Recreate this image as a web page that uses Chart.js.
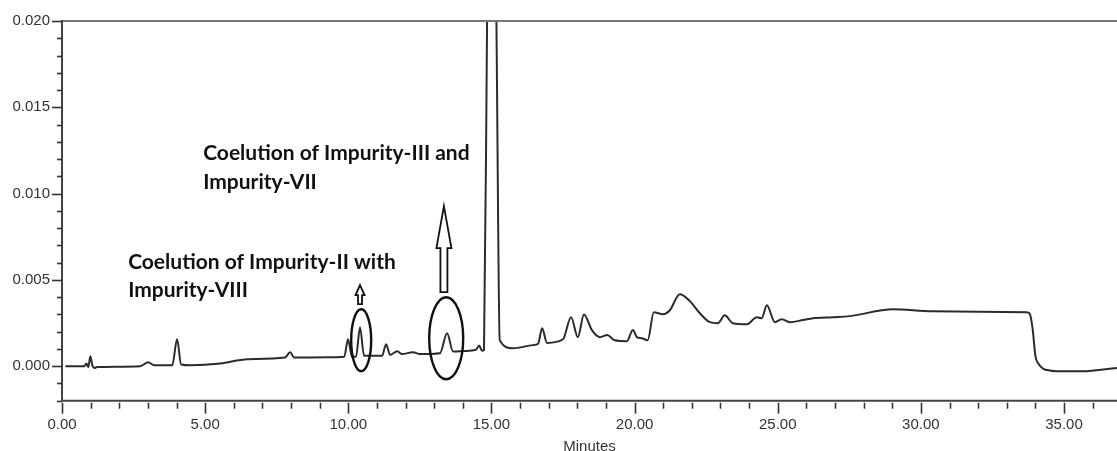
<!DOCTYPE html>
<html>
<head>
<meta charset="utf-8">
<script src="https://cdn.jsdelivr.net/npm/chart.js@4.4.0/dist/chart.umd.min.js"></script>
<style>
  html, body { margin: 0; padding: 0; background: #fff; overflow: hidden; }
  #wrap { width: 1117px; height: 451px; position: relative; }
</style>
</head>
<body>
<div id="wrap"><canvas id="chromChart"></canvas></div>
<script>
// ===========================================
// HPLC chromatogram
// ===========================================

// retention time (minutes)
const times = [
  0.12, 0.78, 0.85, 0.92, 0.99, 1.06, 1.13, 1.23, 2.73, 3.01,
  3.22, 3.85, 4.02, 4.16, 4.48, 5.53, 6.47, 7.79, 7.97, 8.11,
  9.26, 9.86, 9.99, 10.13, 10.27, 10.41, 10.55, 11.18, 11.32, 11.46,
  11.71, 11.88, 12.26, 12.50, 13.20, 13.45, 13.66, 14.08, 14.46, 14.57,
  14.67, 14.74, 14.85, 15.00, 15.17, 15.29, 15.75, 16.45, 16.63, 16.77,
  16.94, 17.50, 17.78, 18.02, 18.23, 18.51, 18.79, 19.04, 19.31, 19.73,
  19.94, 20.08, 20.25, 20.46, 20.67, 20.99, 21.23, 21.58, 21.93, 22.28,
  22.63, 22.91, 23.15, 23.43, 23.92, 24.27, 24.44, 24.62, 24.90, 25.14,
  25.42, 25.88, 26.23, 26.92, 27.52, 29.01, 30.41, 33.69, 33.80, 33.90,
  34.00, 34.10, 34.50, 35.00, 35.70, 36.30, 36.85
];

// detector response (AU)
const absorbance = [
  0.00000, 0.00000, 0.00015, -0.00005, 0.00058, 0.00005, -0.00010, -0.00005, 0.00000, 0.00023,
  0.00005, 0.00005, 0.00156, 0.00010, 0.00005, 0.00015, 0.00040, 0.00050, 0.00081, 0.00050,
  0.00052, 0.00055, 0.00156, 0.00055, 0.00055, 0.00226, 0.00060, 0.00060, 0.00127, 0.00065,
  0.00087, 0.00070, 0.00081, 0.00070, 0.00075, 0.00191, 0.00085, 0.00088, 0.00095, 0.00120,
  0.00090, 0.00095, 0.02050, 0.04000, 0.02050, 0.00150, 0.00104, 0.00122, 0.00130, 0.00220,
  0.00135, 0.00156, 0.00284, 0.00168, 0.00300, 0.00209, 0.00168, 0.00180, 0.00150, 0.00145,
  0.00209, 0.00168, 0.00162, 0.00150, 0.00313, 0.00301, 0.00324, 0.00417, 0.00377, 0.00307,
  0.00255, 0.00249, 0.00295, 0.00249, 0.00243, 0.00284, 0.00278, 0.00353, 0.00255, 0.00272,
  0.00255, 0.00267, 0.00278, 0.00284, 0.00290, 0.00330, 0.00319, 0.00313, 0.00305, 0.00220,
  0.00060, 0.00015, -0.00025, -0.00030, -0.00030, -0.00020, -0.00010
];

// axis ticks
const xMajorTicks = [0, 5, 10, 15, 20, 25, 30, 35];
const yMajorTicks = [0, 0.005, 0.010, 0.015, 0.020];

// annotation texts
const noteUpper = ['Coelution of Impurity-III and', 'Impurity-VII'];
const noteLower = ['Coelution of Impurity-II with', 'Impurity-VIII'];

const AXIS_FONT = "'Liberation Sans', Arial, sans-serif";
const NOTE_FONT = "bold 21px Lato, 'Open Sans', sans-serif";

// hollow up arrow, tip at (x, tipY)
function hollowArrow(ctx, x, tipY, headLen, headHalf, shaftHalf, bottomY) {
  ctx.beginPath();
  ctx.moveTo(x, tipY);
  ctx.lineTo(x + headHalf, tipY + headLen);
  ctx.lineTo(x + shaftHalf, tipY + headLen);
  ctx.lineTo(x + shaftHalf, bottomY);
  ctx.lineTo(x - shaftHalf, bottomY);
  ctx.lineTo(x - shaftHalf, tipY + headLen);
  ctx.lineTo(x - headHalf, tipY + headLen);
  ctx.closePath();
  ctx.fillStyle = '#fff';
  ctx.fill();
  ctx.stroke();
}

const chromFrame = {
  id: 'chromFrame',
  afterDraw(chart) {
    const ctx = chart.ctx;
    const xs = chart.scales.x;
    const ys = chart.scales.y;
    const a = chart.chartArea;
    ctx.save();

    // frame: top border, left + bottom axes
    ctx.strokeStyle = '#777';
    ctx.lineWidth = 2;
    ctx.beginPath();
    ctx.moveTo(a.left, a.top);
    ctx.lineTo(chart.width, a.top);
    ctx.stroke();
    ctx.strokeStyle = '#444';
    ctx.beginPath();
    ctx.moveTo(a.left, a.top - 1);
    ctx.lineTo(a.left, a.bottom);
    ctx.lineTo(chart.width, a.bottom);
    ctx.stroke();

    // x ticks every minute, longer every 5
    ctx.lineWidth = 1.6;
    ctx.strokeStyle = '#333';
    for (let i = 0; i <= Math.floor(xs.max); i++) {
      const px = Math.round(xs.getPixelForValue(i)) + 0.5;
      const len = i % 5 === 0 ? 11 : 6;
      ctx.beginPath();
      ctx.moveTo(px, a.bottom + 2);
      ctx.lineTo(px, a.bottom + 2 + len);
      ctx.stroke();
    }
    // y ticks every 0.001, longer every 0.005
    for (let k = -2; k <= 20; k++) {
      const py = Math.round(ys.getPixelForValue(k / 1000)) + 0.5;
      const len = k % 5 === 0 ? 10 : 5;
      ctx.beginPath();
      ctx.moveTo(a.left - len, py);
      ctx.lineTo(a.left, py);
      ctx.stroke();
    }

    // axis title
    ctx.fillStyle = '#333';
    ctx.font = '15px ' + AXIS_FONT;
    ctx.textAlign = 'center';
    ctx.textBaseline = 'middle';
    ctx.fillText('Minutes', (a.left + chart.width) / 2, 447);

    // notes
    ctx.fillStyle = '#111';
    ctx.font = NOTE_FONT;
    ctx.textAlign = 'left';
    const upX = xs.getPixelForValue(4.93), upY = ys.getPixelForValue(0.01234);
    noteUpper.forEach((t, i) => ctx.fillText(t, upX, upY + i * 29));
    const loX = xs.getPixelForValue(2.31), loY = ys.getPixelForValue(0.00603);
    noteLower.forEach((t, i) => ctx.fillText(t, loX, loY + i * 28));

    // circled peaks
    ctx.strokeStyle = '#111';
    ctx.lineWidth = 2.4;
    ctx.beginPath();
    ctx.ellipse(xs.getPixelForValue(10.45), ys.getPixelForValue(0.00150), 10, 31, 0, 0, Math.PI * 2);
    ctx.stroke();
    ctx.beginPath();
    ctx.ellipse(xs.getPixelForValue(13.42), ys.getPixelForValue(0.00162), 17, 41, 0, 0, Math.PI * 2);
    ctx.stroke();

    // arrows
    ctx.lineWidth = 1.8;
    const smX = xs.getPixelForValue(10.41);
    hollowArrow(ctx, smX, ys.getPixelForValue(0.00470), 10, 4.5, 2, ys.getPixelForValue(0.00360));
    const bgX = xs.getPixelForValue(13.34);
    hollowArrow(ctx, bgX, ys.getPixelForValue(0.00927), 42, 7.5, 3.5, ys.getPixelForValue(0.00429));

    ctx.restore();
  }
};

new Chart(document.getElementById('chromChart'), {
  type: 'line',
  data: {
    datasets: [{
      data: times.map((t, i) => ({ x: t, y: absorbance[i] })),
      borderColor: '#2b2b2b',
      borderWidth: 2,
      pointRadius: 0,
      fill: false,
      cubicInterpolationMode: 'monotone'
    }]
  },
  options: {
    responsive: true,
    maintainAspectRatio: false,
    animation: false,
    devicePixelRatio: 1,
    layout: { padding: { top: 21, right: 0, left: 0, bottom: 0 } },
    plugins: { legend: { display: false }, tooltip: { enabled: false } },
    scales: {
      x: {
        type: 'linear',
        min: 0,
        max: 36.85,
        afterBuildTicks: (s) => { s.ticks = xMajorTicks.map(v => ({ value: v })); },
        afterFit: (s) => { s.height = 50.3; },
        grid: { display: false, drawTicks: false },
        border: { display: false },
        ticks: {
          autoSkip: false,
          maxRotation: 0,
          padding: 15,
          color: '#333',
          font: { family: AXIS_FONT, size: 15 },
          callback: (v) => Number(v).toFixed(2)
        }
      },
      y: {
        min: -0.002,
        max: 0.020,
        afterBuildTicks: (s) => { s.ticks = yMajorTicks.map(v => ({ value: v })); },
        afterFit: (s) => { s.width = 62; },
        grid: { display: false, drawTicks: false },
        border: { display: false },
        ticks: {
          padding: 12,
          color: '#333',
          font: { family: AXIS_FONT, size: 15 },
          callback: (v) => Number(v).toFixed(3)
        }
      }
    }
  },
  plugins: [chromFrame]
});
</script>
</body>
</html>
